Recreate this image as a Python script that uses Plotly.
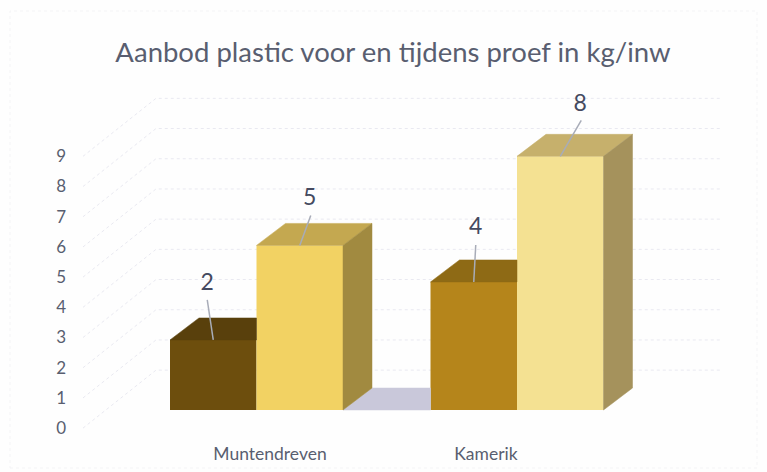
import plotly.graph_objects as go

TITLE = "Aanbod plastic voor en tijdens proef in kg/inw"
categories = ["Muntendreven", "Kamerik"]
series_voor = [2.32, 4.24]
series_tijdens = [5.45, 8.4]
labels_voor = ["2", "4"]
labels_tijdens = ["5", "8"]
axis_values = [0, 1, 2, 3, 4, 5, 6, 7, 8, 9]

# pixel geometry of the picture, converted to axis units
PX_X = 260.5
PX_Y = 30.2
X0_PX = 256.5
Y0_PX = 410
L, R, T, B = 72, 767, 70, 440
W, H = 767, 472


def ux(px):
    return (px - X0_PX) / PX_X


def uy(px):
    return (Y0_PX - px) / PX_Y


BAR = 86.5 / PX_X
DX = 29 / PX_X
DY = 22 / PX_Y
FRONT_OFF = -0.6
BACK_OFF = 1.32
WALL_FRONT = ux(83)
WALL_BACK = ux(156)
WALL_RIGHT = ux(721)
cat_pos = [0, 1]
cat_tick_pos = [ux(270), ux(486)]

C_TXT = "#595e70"
C_LAB = "#454a60"
C_GRID = "#e9e9f1"
C_LEAD = "#a8acb8"
dark_front = ["#6d4e0d", "#b5851b"]
dark_top = ["#59400c", "#8e6a15"]
yellow_front = ["#f2d263", "#f4e192"]
yellow_top = ["#c4a850", "#c6b06c"]
yellow_side = ["#a18a40", "#a5925c"]

fig = go.Figure()

# back wall + side wall gridlines (base axes, below everything)
gx, gy = [], []
for v in axis_values:
    gx += [WALL_FRONT, WALL_BACK, WALL_RIGHT, None]
    gy += [v + FRONT_OFF, v + BACK_OFF, v + BACK_OFF, None]
fig.add_trace(go.Scatter(x=gx, y=gy, mode="lines", xaxis="x", yaxis="y", hoverinfo="skip",
                         line=dict(color=C_GRID, width=1, dash="dot")))

OV = dict(xaxis="x2", yaxis="y2", hoverinfo="skip")


def poly(xs, ys, color):
    fig.add_trace(go.Scatter(x=xs + xs[:1], y=ys + ys[:1], mode="lines", fill="toself",
                             fillcolor=color, line=dict(color=color, width=0.5), **OV))


# fronts
fig.add_trace(go.Bar(x=cat_pos, y=series_voor, marker=dict(color=dark_front, line=dict(width=0)),
                     width=BAR, offset=-BAR, **OV))
fig.add_trace(go.Bar(x=cat_pos, y=series_tijdens, marker=dict(color=yellow_front, line=dict(width=0)),
                     width=BAR, offset=0, **OV))

# floor between the two groups
poly([cat_pos[0] + BAR, cat_pos[0] + BAR + DX, cat_pos[1] - BAR, cat_pos[1] - BAR],
     [0, DY, DY, 0], "#c9c8da")

for i, x in enumerate(cat_pos):
    v = series_voor[i]
    poly([x - BAR, x - BAR + DX, x, x], [v, v + DY, v + DY, v], dark_top[i])
    v = series_tijdens[i]
    poly([x, x + DX, x + BAR + DX, x + BAR], [v, v + DY, v + DY, v], yellow_top[i])
    poly([x + BAR, x + BAR + DX, x + BAR + DX, x + BAR], [0, DY, v + DY, v], yellow_side[i])

# data labels with leader lines: offsets of the label from the bar's top centre
lead_voor = [(-6, 40, -6, 56), (2, 37, 2, 54)]
lead_tijdens = [(11, 30, 10, 46), (21, 36, 20, 51)]
for i, x in enumerate(cat_pos):
    for v, lab, off, xc in ((series_voor[i], labels_voor[i], lead_voor[i], x - BAR / 2),
                            (series_tijdens[i], labels_tijdens[i], lead_tijdens[i], x + BAR / 2)):
        fig.add_trace(go.Scatter(x=[xc, xc + off[0] / PX_X], y=[v, v + off[1] / PX_Y], mode="lines",
                                 line=dict(color=C_LEAD, width=1.5), **OV))
        fig.add_trace(go.Scatter(x=[xc + off[2] / PX_X], y=[v + off[3] / PX_Y], mode="text", text=[lab],
                                 textposition="middle center",
                                 textfont=dict(family="Lato", size=23, color=C_LAB), **OV))

xr = [ux(L), ux(R)]
yr = [uy(B), uy(T)]
fig.update_layout(
    width=W, height=H, margin=dict(l=L, r=W - R, t=T, b=H - B),
    paper_bgcolor="#fefefe", plot_bgcolor="rgba(0,0,0,0)", showlegend=False, barmode="overlay",
    title=dict(text=TITLE, x=393 / W, xanchor="center", y=1 - 52 / H, yanchor="middle",
               font=dict(family="Lato", size=27.5, color=C_TXT)),
    xaxis=dict(range=xr, tickmode="array", tickvals=cat_tick_pos, ticktext=categories, showgrid=False,
               zeroline=False, showline=False, ticks="", ticklabelstandoff=1,
               tickfont=dict(family="Lato", size=17.5, color=C_TXT)),
    yaxis=dict(range=yr, tickmode="array", tickvals=[v + FRONT_OFF for v in axis_values],
               ticktext=[str(v) for v in axis_values], showgrid=False, zeroline=False, showline=False,
               ticks="", ticklabelstandoff=5, tickfont=dict(family="Lato", size=17, color=C_TXT)),
    xaxis2=dict(range=xr, overlaying="x", visible=False),
    yaxis2=dict(range=yr, overlaying="y", visible=False),
    shapes=[dict(type="rect", xref="paper", yref="paper",
                 x0=(10 - L) / (R - L), x1=(757 - L) / (R - L),
                 y0=(B - 468) / (B - T), y1=(B - 11) / (B - T),
                 line=dict(color="#f4f4f6", width=1, dash="dot"), layer="below")],
)
fig.write_html("out.html", config=dict(displayModeBar=False),
               post_script="document.body.style.margin='0';document.body.style.background='#fefefe';")
